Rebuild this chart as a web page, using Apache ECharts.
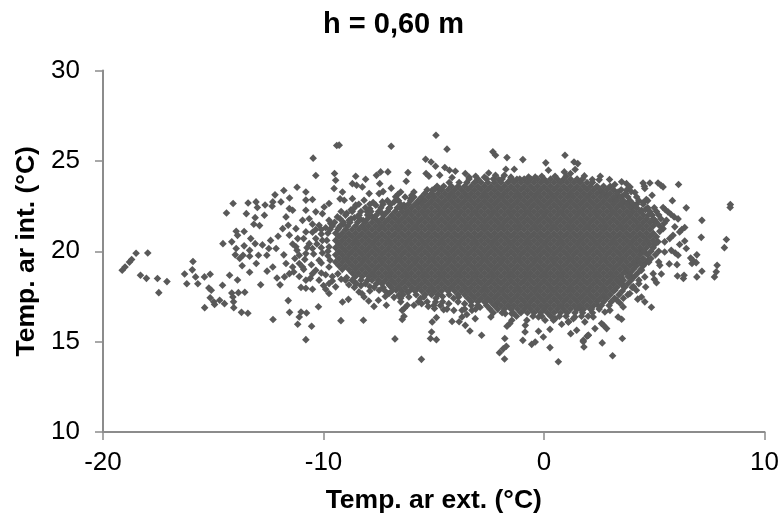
<!DOCTYPE html>
<html>
<head>
<meta charset="utf-8">
<title>h = 0,60 m</title>
<style>
  html, body { margin: 0; padding: 0; background: #fff; }
  #chart { width: 782px; height: 519px; }
</style>
<script src="https://cdn.jsdelivr.net/npm/echarts@6/dist/echarts.min.js"></script>
</head>
<body>
<div id="chart"></div>
<script>
// points that can be told apart in the picture, [ext, int]
var leftPoints = [
  [-19.13,18.95],[-19,19.13],[-18.8,19.4],[-18.7,19.54],[-18.5,19.89],[-17.97,19.9],[-18.3,18.67],[-18.03,18.5],[-17.53,18.49],[-17.1,18.32],[-17.47,17.71],
  [-15.92,19.43],[-15.95,18.97],[-16.3,18.74],[-15.8,18.58],[-15.4,18.58],[-15.14,18.73],[-16.2,18.2],[-15.7,18.2],[-15.39,16.88],[-15.2,17.97],[-15.09,17.84],[-15.14,17.43],[-14.98,17.2],[-14.94,17.05],[-14.71,17.29],[-14.49,17.1],[-14.58,18.12],[-14.26,18.67],[-13.9,18.41],[-14.16,17.69],[-14.11,17.47],[-13.86,17.71],[-13.57,17.73],[-14.08,17.2],[-14.07,16.88],[-13.72,16.62],[-13.43,16.57],
  [-14.4,22.12],[-14.1,22.64],[-14.56,20.42],[-14.16,20.52],[-13.96,21.11],[-13.6,21.09],[-13.9,20.88],[-13.5,22.08],[-13.42,22.67],[-13.06,22.73],[-13,22.42],[-12.65,22.56],[-13.1,21.86],[-12.68,21.99],[-13.16,21.49],[-12.9,21.42],[-12.3,22.73],[-12.2,23.12],[-11.8,23.36],[-11.2,23.54],[-11.54,22.95],[-11.93,22.73],[-12.33,22.49],
  [-13.3,20.7],[-13.6,20.3],[-13.1,20.42],[-13.35,20.05],[-12.77,20.35],[-13.96,20.15],[-14,19.8],[-13.8,19.6],[-13.69,19.2],[-13.35,19.72],[-13.65,19.78],[-12.95,19.78],[-13.05,19.32],[-13.35,18.84],[-12.56,18.9],[-12.85,18.15],[-12.4,20.6],[-12.06,20.83],[-12.48,20.15],[-12.57,19.78],[-12.15,20.15],[-11.8,19.8],[-12.3,19.13],
  [-11.6,17.27],[-11.54,16.62],[-12.29,16.22],[-10.23,16.93],[-11.02,16.64],[-10.77,16.58],[-11.1,16.36],[-11.17,15.96],[-10.54,15.85],[-10.8,15.11],[-11.97,18.14],[-12.11,18.52],[-11.02,18],[-10.8,17.95],
  [-10.47,25.15],[-10.35,24.19],[-9.4,25.85],[-9.5,24.3],[-9.45,23.93],[-9.52,23.47],[-10.8,23.28],[-10.8,22.83],[-10.5,22.86],[-11.55,22.36],[-11.4,22.27],[-11.7,21.9],[-11.6,21.44],[-11.85,21.25],[-11.55,20.89],[-11.25,21.25],[-10.8,21.07],[-11.17,20.7],[-9.75,22.64],[-9.97,22.45],[-10.8,22.27],[-10.35,22.18],[-10.05,22.08],[-10.65,21.8],[-10.95,21.71],[-9.75,21.71],[-10.2,21.44],[-9.67,21.53],[-9.37,21.9],
  [-11.7,19.32],[-11.4,19.13],[-11.55,18.76],[-11.77,18.58],[-11.1,19.32],[-10.8,19.87],[-11.1,19.78],[-10.5,20.15],[-10.05,20.6],[-10.65,20.42],[-9.75,20.24],[-10.2,19.5],[-9.75,19.13],[-10.35,18.95],[-10.5,18.76],[-10.2,18.4],[-9.75,18.21],[-9.45,18.03],[-9.75,17.66],[-10.95,19.13],[-10.8,18.4],[-11.1,18.6],[-9.9,17.9],[-10.5,17.9],[-11.25,20.25],[-11.4,20.4],[-10.05,19.9],[-10.35,20.7],[-9.7,19.5],[-9.9,18.7],
  [-9.8,21],[-10.1,20.95],[-10.5,21.05],[-10.9,20.7],[-9.85,20.6],[-10.3,20.4],[-10.75,20.2],[-11.2,20.05],[-9.8,20],[-10.1,20.2],[-10.45,19.85],[-10.85,19.55],[-11.3,19.6],[-9.8,19.75],[-10.1,19.35],[-10.55,19.25],[-10.9,19],[-11.35,18.85],[-10.1,18.8],[-10.6,18.5],[-9.6,18.6],[-9.35,18.75],[-9.2,18.45],[-9.6,18.35],[-8.95,18.55],[-10,18.1],[-10.35,21.2],[-9.9,21.3],[-10.5,21.5]
];

var upperPoints = [
  [-9.29,25.87],[-6.93,25.81],[-4.9,26.42],[-4.4,25.65],[-2.32,25.5],[-2.2,25.31],[-1.68,25.18],[-0.96,25.07],[-5.37,25.09],[-5.12,24.94],[-4.92,24.7],[-4.5,24.63],[-4.29,24.48],[-4.02,24.43],[-7.41,24.39],[-7.08,24.39],[-7.6,24.2],[-6.17,24.35],[-8.54,24.15],[-8.09,23.98],[-5.22,24.15],[-5.35,24.3],[-4.73,24.21],[-4.17,24.08],[-3.57,24.3],[-3.4,24.1],[-7.45,23.74],[-6.25,23.87],[-8.69,23.74],[-8.24,23.56],[-8.5,23.65],[-6.93,23.49],[-2.51,24.33],[-2.7,24.1],[-1.73,24.54],[-1.35,24.54],[-2.06,23.97],[-1.23,23.98],[-1.5,24.1],[-0.7,24.11],[-0.4,24.1],[-0.9,24],[0.2,24.48],
  [-9.14,23.28],[-7.93,23.19],[-7.48,23.19],[-7.3,23.3],[-6.73,23.01],[-6.5,23.28],[-6.62,23.15],[-5.9,23.28],[-6.05,22.91],[-6,23.1],[-5.52,22.82],[-5.7,22.7],[-5.07,23.38],[-4.77,23.47],[-4.95,23.45],[-8.16,22.82],[-8.69,22.91],[-9.06,22.82],[-9.25,22.9],[-7.33,22.73],[-6.8,22.73],[-6.95,22.6],[-8.54,22.55],[-7.63,22.55],[-7.75,22.7],[-6.35,22.55],[-6.5,22.4],[-8.01,22.18],[-7.33,22.08],[-7.03,22.36],[-8.84,21.71],[-8.39,21.99],[-8.75,22.3],[-8.95,22.1],[-8.6,21.85],[-9.1,21.5],[-9.3,21.3],[-7.8,21.9],[-8.2,21.7],[-7.9,22.35],
  [-3.4,24],[-3,24],[-2.6,24],[-2.3,24],[-1.9,24],[-1.5,24],[-1.1,24],[1.5,24],[1.75,24],[-3.5,23.8],[-3.85,23.8],[-4.3,23.8],[1.95,23.8],[2.2,23.8],[-4.55,23.6],[-4.85,23.6],[2.4,23.6],[2.7,23.6],[3,23.6],[-5,23.4],[-5.3,23.4],[2.85,23.4],[3.15,23.4],[3.5,23.4],[-3.1,24.15],[-0.1,24.15],[0.5,24.15],[1,24.15],[-2.2,24.2],[-1.8,24.2],
  [-5.9,23],[-6.3,23],[-6.05,22.8],[-6.6,22.8],[-7.1,22.8],[-6.5,22.6],[-7.3,22.6],[-7.9,22.6],[-8.4,22.6],[-6.65,22.4],[-7,22.4],[-7.4,22.4],[-8.1,22.4],[-8.6,22.4],[-7.1,22.2],[-7.5,22.2],[-7.85,22.2],[-8.3,22.2],[-8.7,22.2],[-9.2,22.2],[-7.25,22],[-7.6,22],[-8,22],[-8.4,22],[-9,22],[-8,21.8],[-8.35,21.8],[-8.75,21.8],[-9.25,21.8],[-8.45,21.6],[-8.8,21.6],[-9.1,21.6],[-9.5,21.6],[-8.9,21.4],[-9.25,21.4],[-9.6,21.4],[-9.35,21.2],[-9.7,21.2],[-10.1,21.2]
];

var lowerPoints = [
  [-9.21,16.16],[-8.19,16.18],[-6.76,15.15],[-5.56,14.02],[-6.43,16.22],[-6.35,16.4],[-5.07,16.09],[-4.88,16.33],[-4.17,16.12],[-5.1,15.53],[-5.15,15.17],[-4.88,15.11],[-3.36,15.59],[-2.83,15.35],[-1.78,15.17],[-1.71,14.74],[-1.85,14.6],[-2.02,14.39],[-1.79,14.04],[0.65,13.89],[0.27,14.67],[-0.96,15.07],[-0.56,14.85],[-0.4,14.98],[-0.03,15.26],[-0.86,15.53],[-0.25,15.57],[0.27,15.68],[0.8,15.96],[1.21,15.44],[1.48,15.63],[1.85,16.09],[1.78,15.07],[1.81,14.7],[1.95,15.3],[2.01,15.35],[-1.68,15.85],[-1.46,16.18],[-1.55,16],[-0.78,16.18],[-0.85,15.9],[-2.41,16.36],[-3.57,15.9],[-3.85,16.1],[-3.12,16.27],[-3.72,16.36],
  [-9.14,17.19],[-8.87,17.34],[-7.71,16.95],[-7.15,17.01],[-7.51,17.29],[-8.16,17.47],[-8.39,17.75],[-7.95,17.25],[-8.25,17.65],[-6.43,16.73],[-6.2,17.01],[-5.9,17.01],[-6.33,16.85],[-5.55,17.1],[-5.25,16.95],[-4.97,16.83],[-4.55,16.77],[-4.09,16.73],[-3.72,16.73],[-3.27,16.73],[-3.5,16.5],[-6.13,17.47],[-7.03,17.66],[-6.58,17.57],[-6.8,17.45],[-7.48,17.84],[-7.2,17.5],[-5.45,17.47],[-4.92,17.19],[-4.32,17.1],[-3.87,17.47],[-4.6,17.5],[-5.1,17.6],[-3.6,17.1],[-2.66,17.19],[-2.14,17.1],[-2.9,16.9],[-1.76,16.55],[-1.46,16.55],[-1.25,16.4],[-0.25,16.36],[0.05,16.18],[0.5,16.27],[1.1,16.09],[1.4,16.36],[-8.6,18.3],[-8.85,18.15],[-8.3,18.1],[-7.9,18.05],[-7,18.1],[-6.7,17.85],[-6.2,17.75],
  [-8,18.4],[-8.3,18.4],[-8.7,18.4],[-9,18.4],[-7.6,18.2],[-8.1,18.2],[-8.5,18.2],[-6.9,18],[-7.3,18],[-7.7,18],[-8.6,18],[-6.1,17.8],[-6.45,17.8],[-6.9,17.8],[-7.2,17.8],[-7.9,17.8],[-3.9,17.6],[-4.3,17.6],[-4.8,17.6],[-5.4,17.6],[-5.8,17.6],[-6.4,17.6],[-3.45,17.4],[-4.1,17.4],[-4.9,17.4],[-5.6,17.4],[-6.5,17.4],[-3,17.2],[-3.3,17.2],[-3.9,17.2],[-4.6,17.2],[-5.3,17.2],[-5.7,17.2],[-6.5,17.2],[-2.6,17],[-3,17],[-3.3,17],[-4.7,17],[-5,17],[-2.1,16.8],[-2.45,16.8],[-3.1,16.8],[-3.6,16.8],[-4.4,16.8],[-1.05,16.6],[-1.4,16.6],[-1.9,16.6],[-2.3,16.6]
];

var rightPoints = [
  [0.95,25.31],[0.08,24.89],[1.36,24.94],[1.53,24.85],[1.41,24.52],[1.2,24.3],[0.92,24.39],[1.83,24.17],[2.19,23.97],[2.55,24.15],[2.5,23.95],[2.97,23.97],[3.21,23.69],[3.52,23.84],[3.74,23.74],[3.9,23.55],[4.49,23.78],[4.55,23.6],[4.8,23.78],[5.17,23.78],[5.4,23.56],[5.3,23.65],[6.1,23.69],[4.57,23.47],[3.74,23.38],[4.12,23.25],[3.95,23.3],[4.9,23.1],[4.64,22.86],[4.5,22.7],[5.82,22.8],[3.36,23.28],[2.84,23.1],[3.14,22.82],[2.61,23.28],[3.55,23.05],[3.3,23],[6.45,22.4],[8.45,22.58],[8.44,22.42],[7.16,21.71],[7.13,20.77],[8.27,20.65],[8.18,20.2],
  [5.4,22.42],[5.5,22.3],[5.62,22.18],[5.75,22.05],[5.9,21.9],[6.08,21.79],[5.55,21.71],[5.45,21.55],[5.93,21.35],[6.38,21.31],[6.25,21.2],[6.15,21.07],[5.4,21.25],[5.25,21.1],[5.85,20.88],[5.7,20.7],[6.38,20.57],[6.15,20.37],[6.45,20.15],[5.17,20.52],[5.47,20.52],[5.47,19.96],[5.77,20.05],[5.95,19.9],[6.08,19.78],[6.65,19.63],[6.93,19.8],[6.9,19.37],[6.71,19.32],[6.75,19.5],[7.85,19.22],[7.81,18.86],[7.73,18.58],[7.16,18.89],[6.93,18.58],[6.35,18.67],[6.05,18.63],[6.32,18.49],[6.03,19.26],[5.68,19.3],[5.2,19.41],[5.25,19.22],[5.32,18.74],[4.95,18.76],[5.1,18.26],[5,18.45],[4.72,19.5],[4.6,19.35],[4.42,20.05],[4.6,19.9],[4.57,18.58],[4.61,18.02],[4.87,16.9],[4.57,17.2],[4.42,17.47],[4.25,17.35],[3.89,17.66],[4.19,17.84],[4.05,18.05],[3.59,16.92],[3.44,17.14],[3.3,17.3],[3.52,16.24],[3.36,16.36],[3.55,15.17],[3.11,14.22],[2.64,14.93],[2.01,15.35],[1.78,15],
  [2.84,15.72],[2.7,15.9],[2.61,16],[2.31,15.72],[2.23,16.36],[2.99,16.73],[2.76,16.64],[1.33,16.27],[1.11,16.09],[0.43,16.18],[1.71,16.73],[2.1,16.8],[2.45,17],[4.12,19.32],[4.42,18.95],[3.97,18.58],[3.7,18.85],[3.52,18.21],[3.21,17.84],[2.76,17.47],[3.5,18.55],[3.52,22.64],[3.97,22.45],[4.42,22.27],[4.72,21.99],[5.02,21.72],[3.85,22.75],[4.2,22.6],[4.6,22.3],
  [3,23.2],[3.3,23.2],[3.7,23.2],[3.45,23],[3.8,23],[4.2,23],[3.6,22.8],[3.9,22.8],[4.3,22.8],[4.7,22.8],[3.75,22.6],[4.05,22.6],[4.5,22.6],[3.9,22.4],[4.2,22.4],[4.7,22.4],[5,22.4],[4.05,22.2],[4.35,22.2],[4.8,22.2],[5.1,22.2],[4.5,22],[4.9,22],[5.2,22],[4.65,21.8],[4.95,21.8],[5.3,21.8],[4.8,21.6],[5.1,21.6],[4.95,21.4],[5.25,21.4],
  [3.9,19.2],[4.2,19.2],[4.5,19.2],[3.75,19],[4.05,19],[4.4,19],[3.6,18.8],[3.9,18.8],[4.25,18.8],[3.45,18.6],[3.8,18.6],[4.1,18.6],[3.3,18.4],[3.6,18.4],[3.95,18.4],[4.3,18.4],[3.15,18.2],[3.45,18.2],[3.8,18.2],[4.3,18.2],[3,18],[3.3,18],[3.65,18],[4,18],[2.85,17.8],[3.15,17.8],[3.55,17.8],[2.7,17.6],[3,17.6],[3.4,17.6],[3.8,17.6],[2.55,17.4],[2.85,17.4],[3.2,17.4],[3.6,17.4],[2.4,17.2],[2.7,17.2],[3.05,17.2],[1.95,17],[2.25,17],[2.6,17],[2.95,17],[1.5,16.8],[1.8,16.8],[2.15,16.8],[2.5,16.8],[0.75,16.6],[1.05,16.6],[1.4,16.6],[1.75,16.6],[2.2,16.6],[-0.5,16.4],[-0.1,16.4],[0.3,16.4],[0.7,16.4],[1,16.4],[1.7,16.4],[2,16.4],
  [5.1,20.8],[4.95,20.6],[4.8,20.4],[5.05,20.4],[4.65,20.2],[4.95,20.2],[4.5,20],[4.85,20],[5.2,20],[4.35,19.8],[4.7,19.8],[5.05,19.8],[4.2,19.6],[4.5,19.6],[4.85,19.6],[4.05,19.4],[4.35,19.4],[4.75,19.4]
];

// the middle of the cloud is solid, single points can't be read there.
// estimated rows that fill its outline: [int, ext, ext, ...]
var coreRows = [
  [24.0,-0.6,-0.3,0,0.3,0.6,0.9,1.2],
  [23.8,-3.15,-2.85,-2.55,-2.25,-1.95,-1.65,-1.35,-1.05,-0.75,-0.45,-0.15,0.15,0.45,0.75,1.05,1.35,1.65],
  [23.6,-4.2,-3.9,-3.6,-3.3,-3,-2.7,-2.4,-2.1,-1.8,-1.5,-1.2,-0.9,-0.6,-0.3,0,0.3,0.6,0.9,1.2,1.5,1.8,2.1],
  [23.4,-4.65,-4.35,-4.05,-3.75,-3.45,-3.15,-2.85,-2.55,-2.25,-1.95,-1.65,-1.35,-1.05,-0.75,-0.45,-0.15,0.15,0.45,0.75,1.05,1.35,1.65,1.95,2.25,2.55],
  [23.2,-5.4,-5.1,-4.8,-4.5,-4.2,-3.9,-3.6,-3.3,-3,-2.7,-2.4,-2.1,-1.8,-1.5,-1.2,-0.9,-0.6,-0.3,0,0.3,0.6,0.9,1.2,1.5,1.8,2.1,2.4,2.7],
  [23.0,-5.55,-5.25,-4.95,-4.65,-4.35,-4.05,-3.75,-3.45,-3.15,-2.85,-2.55,-2.25,-1.95,-1.65,-1.35,-1.05,-0.75,-0.45,-0.15,0.15,0.45,0.75,1.05,1.35,1.65,1.95,2.25,2.55,2.85,3.15],
  [22.8,-5.7,-5.4,-5.1,-4.8,-4.5,-4.2,-3.9,-3.6,-3.3,-3,-2.7,-2.4,-2.1,-1.8,-1.5,-1.2,-0.9,-0.6,-0.3,0,0.3,0.6,0.9,1.2,1.5,1.8,2.1,2.4,2.7,3,3.3],
  [22.6,-6.15,-5.85,-5.55,-5.25,-4.95,-4.65,-4.35,-4.05,-3.75,-3.45,-3.15,-2.85,-2.55,-2.25,-1.95,-1.65,-1.35,-1.05,-0.75,-0.45,-0.15,0.15,0.45,0.75,1.05,1.35,1.65,1.95,2.25,2.55,2.85,3.15,3.45],
  [22.4,-6.3,-6,-5.7,-5.4,-5.1,-4.8,-4.5,-4.2,-3.9,-3.6,-3.3,-3,-2.7,-2.4,-2.1,-1.8,-1.5,-1.2,-0.9,-0.6,-0.3,0,0.3,0.6,0.9,1.2,1.5,1.8,2.1,2.4,2.7,3,3.3,3.6],
  [22.2,-6.75,-6.45,-6.15,-5.85,-5.55,-5.25,-4.95,-4.65,-4.35,-4.05,-3.75,-3.45,-3.15,-2.85,-2.55,-2.25,-1.95,-1.65,-1.35,-1.05,-0.75,-0.45,-0.15,0.15,0.45,0.75,1.05,1.35,1.65,1.95,2.25,2.55,2.85,3.15,3.45,3.75],
  [22.0,-6.9,-6.6,-6.3,-6,-5.7,-5.4,-5.1,-4.8,-4.5,-4.2,-3.9,-3.6,-3.3,-3,-2.7,-2.4,-2.1,-1.8,-1.5,-1.2,-0.9,-0.6,-0.3,0,0.3,0.6,0.9,1.2,1.5,1.8,2.1,2.4,2.7,3,3.3,3.6,3.9,4.2],
  [21.8,-7.65,-7.35,-7.05,-6.75,-6.45,-6.15,-5.85,-5.55,-5.25,-4.95,-4.65,-4.35,-4.05,-3.75,-3.45,-3.15,-2.85,-2.55,-2.25,-1.95,-1.65,-1.35,-1.05,-0.75,-0.45,-0.15,0.15,0.45,0.75,1.05,1.35,1.65,1.95,2.25,2.55,2.85,3.15,3.45,3.75,4.05,4.35],
  [21.6,-8.1,-7.8,-7.5,-7.2,-6.9,-6.6,-6.3,-6,-5.7,-5.4,-5.1,-4.8,-4.5,-4.2,-3.9,-3.6,-3.3,-3,-2.7,-2.4,-2.1,-1.8,-1.5,-1.2,-0.9,-0.6,-0.3,0,0.3,0.6,0.9,1.2,1.5,1.8,2.1,2.4,2.7,3,3.3,3.6,3.9,4.2,4.5],
  [21.4,-8.55,-8.25,-7.95,-7.65,-7.35,-7.05,-6.75,-6.45,-6.15,-5.85,-5.55,-5.25,-4.95,-4.65,-4.35,-4.05,-3.75,-3.45,-3.15,-2.85,-2.55,-2.25,-1.95,-1.65,-1.35,-1.05,-0.75,-0.45,-0.15,0.15,0.45,0.75,1.05,1.35,1.65,1.95,2.25,2.55,2.85,3.15,3.45,3.75,4.05,4.35,4.65],
  [21.2,-9,-8.7,-8.4,-8.1,-7.8,-7.5,-7.2,-6.9,-6.6,-6.3,-6,-5.7,-5.4,-5.1,-4.8,-4.5,-4.2,-3.9,-3.6,-3.3,-3,-2.7,-2.4,-2.1,-1.8,-1.5,-1.2,-0.9,-0.6,-0.3,0,0.3,0.6,0.9,1.2,1.5,1.8,2.1,2.4,2.7,3,3.3,3.6,3.9,4.2,4.5,4.8],
  [21.0,-9.45,-9.15,-8.85,-8.55,-8.25,-7.95,-7.65,-7.35,-7.05,-6.75,-6.45,-6.15,-5.85,-5.55,-5.25,-4.95,-4.65,-4.35,-4.05,-3.75,-3.45,-3.15,-2.85,-2.55,-2.25,-1.95,-1.65,-1.35,-1.05,-0.75,-0.45,-0.15,0.15,0.45,0.75,1.05,1.35,1.65,1.95,2.25,2.55,2.85,3.15,3.45,3.75,4.05,4.35,4.65,4.95],
  [20.8,-9.3,-9,-8.7,-8.4,-8.1,-7.8,-7.5,-7.2,-6.9,-6.6,-6.3,-6,-5.7,-5.4,-5.1,-4.8,-4.5,-4.2,-3.9,-3.6,-3.3,-3,-2.7,-2.4,-2.1,-1.8,-1.5,-1.2,-0.9,-0.6,-0.3,0,0.3,0.6,0.9,1.2,1.5,1.8,2.1,2.4,2.7,3,3.3,3.6,3.9,4.2,4.5,4.8],
  [20.6,-9.45,-9.15,-8.85,-8.55,-8.25,-7.95,-7.65,-7.35,-7.05,-6.75,-6.45,-6.15,-5.85,-5.55,-5.25,-4.95,-4.65,-4.35,-4.05,-3.75,-3.45,-3.15,-2.85,-2.55,-2.25,-1.95,-1.65,-1.35,-1.05,-0.75,-0.45,-0.15,0.15,0.45,0.75,1.05,1.35,1.65,1.95,2.25,2.55,2.85,3.15,3.45,3.75,4.05,4.35,4.65],
  [20.4,-9.3,-9,-8.7,-8.4,-8.1,-7.8,-7.5,-7.2,-6.9,-6.6,-6.3,-6,-5.7,-5.4,-5.1,-4.8,-4.5,-4.2,-3.9,-3.6,-3.3,-3,-2.7,-2.4,-2.1,-1.8,-1.5,-1.2,-0.9,-0.6,-0.3,0,0.3,0.6,0.9,1.2,1.5,1.8,2.1,2.4,2.7,3,3.3,3.6,3.9,4.2,4.5],
  [20.2,-9.45,-9.15,-8.85,-8.55,-8.25,-7.95,-7.65,-7.35,-7.05,-6.75,-6.45,-6.15,-5.85,-5.55,-5.25,-4.95,-4.65,-4.35,-4.05,-3.75,-3.45,-3.15,-2.85,-2.55,-2.25,-1.95,-1.65,-1.35,-1.05,-0.75,-0.45,-0.15,0.15,0.45,0.75,1.05,1.35,1.65,1.95,2.25,2.55,2.85,3.15,3.45,3.75,4.05,4.35],
  [20.0,-9.3,-9,-8.7,-8.4,-8.1,-7.8,-7.5,-7.2,-6.9,-6.6,-6.3,-6,-5.7,-5.4,-5.1,-4.8,-4.5,-4.2,-3.9,-3.6,-3.3,-3,-2.7,-2.4,-2.1,-1.8,-1.5,-1.2,-0.9,-0.6,-0.3,0,0.3,0.6,0.9,1.2,1.5,1.8,2.1,2.4,2.7,3,3.3,3.6,3.9,4.2],
  [19.8,-9.45,-9.15,-8.85,-8.55,-8.25,-7.95,-7.65,-7.35,-7.05,-6.75,-6.45,-6.15,-5.85,-5.55,-5.25,-4.95,-4.65,-4.35,-4.05,-3.75,-3.45,-3.15,-2.85,-2.55,-2.25,-1.95,-1.65,-1.35,-1.05,-0.75,-0.45,-0.15,0.15,0.45,0.75,1.05,1.35,1.65,1.95,2.25,2.55,2.85,3.15,3.45,3.75,4.05],
  [19.6,-9.3,-9,-8.7,-8.4,-8.1,-7.8,-7.5,-7.2,-6.9,-6.6,-6.3,-6,-5.7,-5.4,-5.1,-4.8,-4.5,-4.2,-3.9,-3.6,-3.3,-3,-2.7,-2.4,-2.1,-1.8,-1.5,-1.2,-0.9,-0.6,-0.3,0,0.3,0.6,0.9,1.2,1.5,1.8,2.1,2.4,2.7,3,3.3,3.6,3.9],
  [19.4,-9.45,-9.15,-8.85,-8.55,-8.25,-7.95,-7.65,-7.35,-7.05,-6.75,-6.45,-6.15,-5.85,-5.55,-5.25,-4.95,-4.65,-4.35,-4.05,-3.75,-3.45,-3.15,-2.85,-2.55,-2.25,-1.95,-1.65,-1.35,-1.05,-0.75,-0.45,-0.15,0.15,0.45,0.75,1.05,1.35,1.65,1.95,2.25,2.55,2.85,3.15,3.45,3.75],
  [19.2,-9.3,-9,-8.7,-8.4,-8.1,-7.8,-7.5,-7.2,-6.9,-6.6,-6.3,-6,-5.7,-5.4,-5.1,-4.8,-4.5,-4.2,-3.9,-3.6,-3.3,-3,-2.7,-2.4,-2.1,-1.8,-1.5,-1.2,-0.9,-0.6,-0.3,0,0.3,0.6,0.9,1.2,1.5,1.8,2.1,2.4,2.7,3,3.3,3.6],
  [19.0,-9.15,-8.85,-8.55,-8.25,-7.95,-7.65,-7.35,-7.05,-6.75,-6.45,-6.15,-5.85,-5.55,-5.25,-4.95,-4.65,-4.35,-4.05,-3.75,-3.45,-3.15,-2.85,-2.55,-2.25,-1.95,-1.65,-1.35,-1.05,-0.75,-0.45,-0.15,0.15,0.45,0.75,1.05,1.35,1.65,1.95,2.25,2.55,2.85,3.15,3.45],
  [18.8,-8.7,-8.4,-8.1,-7.8,-7.5,-7.2,-6.9,-6.6,-6.3,-6,-5.7,-5.4,-5.1,-4.8,-4.5,-4.2,-3.9,-3.6,-3.3,-3,-2.7,-2.4,-2.1,-1.8,-1.5,-1.2,-0.9,-0.6,-0.3,0,0.3,0.6,0.9,1.2,1.5,1.8,2.1,2.4,2.7,3,3.3],
  [18.6,-8.55,-8.25,-7.95,-7.65,-7.35,-7.05,-6.75,-6.45,-6.15,-5.85,-5.55,-5.25,-4.95,-4.65,-4.35,-4.05,-3.75,-3.45,-3.15,-2.85,-2.55,-2.25,-1.95,-1.65,-1.35,-1.05,-0.75,-0.45,-0.15,0.15,0.45,0.75,1.05,1.35,1.65,1.95,2.25,2.55,2.85,3.15],
  [18.4,-7.8,-7.5,-7.2,-6.9,-6.6,-6.3,-6,-5.7,-5.4,-5.1,-4.8,-4.5,-4.2,-3.9,-3.6,-3.3,-3,-2.7,-2.4,-2.1,-1.8,-1.5,-1.2,-0.9,-0.6,-0.3,0,0.3,0.6,0.9,1.2,1.5,1.8,2.1,2.4,2.7,3],
  [18.2,-7.35,-7.05,-6.75,-6.45,-6.15,-5.85,-5.55,-5.25,-4.95,-4.65,-4.35,-4.05,-3.75,-3.45,-3.15,-2.85,-2.55,-2.25,-1.95,-1.65,-1.35,-1.05,-0.75,-0.45,-0.15,0.15,0.45,0.75,1.05,1.35,1.65,1.95,2.25,2.55,2.85],
  [18.0,-6.6,-6.3,-6,-5.7,-5.4,-5.1,-4.8,-4.5,-4.2,-3.9,-3.6,-3.3,-3,-2.7,-2.4,-2.1,-1.8,-1.5,-1.2,-0.9,-0.6,-0.3,0,0.3,0.6,0.9,1.2,1.5,1.8,2.1,2.4,2.7],
  [17.8,-5.85,-5.55,-5.25,-4.95,-4.65,-4.35,-4.05,-3.75,-3.45,-3.15,-2.85,-2.55,-2.25,-1.95,-1.65,-1.35,-1.05,-0.75,-0.45,-0.15,0.15,0.45,0.75,1.05,1.35,1.65,1.95,2.25,2.55],
  [17.6,-3.6,-3.3,-3,-2.7,-2.4,-2.1,-1.8,-1.5,-1.2,-0.9,-0.6,-0.3,0,0.3,0.6,0.9,1.2,1.5,1.8,2.1,2.4],
  [17.4,-3.15,-2.85,-2.55,-2.25,-1.95,-1.65,-1.35,-1.05,-0.75,-0.45,-0.15,0.15,0.45,0.75,1.05,1.35,1.65,1.95,2.25],
  [17.2,-2.7,-2.4,-2.1,-1.8,-1.5,-1.2,-0.9,-0.6,-0.3,0,0.3,0.6,0.9,1.2,1.5,1.8,2.1],
  [17.0,-2.25,-1.95,-1.65,-1.35,-1.05,-0.75,-0.45,-0.15,0.15,0.45,0.75,1.05,1.35,1.65],
  [16.8,-1.8,-1.5,-1.2,-0.9,-0.6,-0.3,0,0.3,0.6,0.9,1.2],
  [16.6,-0.75,-0.45,-0.15,0.15,0.45]
];

var xTicks = {min: -20, max: 10, interval: 10};
var yTicks = {min: 10, max: 30, interval: 5};

var corePoints = [];
coreRows.forEach(function (row) {
    for (var i = 1; i < row.length; i++) {
        corePoints.push([row[i], row[0]]);
    }
});
var points = leftPoints.concat(upperPoints, lowerPoints, rightPoints, corePoints);

var axisColor = '#8c8c8c';
var font = '"Liberation Sans", Arial, sans-serif';

var option = {
    backgroundColor: '#fff',
    animation: false,
    title: {
        text: 'h = 0,60 m',
        left: 318,
        top: 5,
        textStyle: {color: '#000', fontFamily: font, fontWeight: 'bold', fontSize: 29}
    },
    grid: {left: 103, right: 14, top: 70.5, bottom: 87},
    xAxis: {
        type: 'value',
        min: xTicks.min,
        max: xTicks.max,
        interval: xTicks.interval,
        name: 'Temp. ar ext. (°C)',
        nameLocation: 'middle',
        nameGap: 55,
        nameTextStyle: {color: '#000', fontFamily: font, fontWeight: 'bold', fontSize: 26.5},
        axisLine: {onZero: false, lineStyle: {color: axisColor, width: 2}},
        axisTick: {length: 8, lineStyle: {color: axisColor, width: 1.5}},
        axisLabel: {color: '#000', fontFamily: font, fontSize: 26, margin: 18},
        splitLine: {show: false}
    },
    yAxis: {
        type: 'value',
        min: yTicks.min,
        max: yTicks.max,
        interval: yTicks.interval,
        name: 'Temp. ar int. (°C)',
        nameLocation: 'middle',
        nameGap: 53,
        nameTextStyle: {color: '#000', fontFamily: font, fontWeight: 'bold', fontSize: 26.5},
        axisLine: {onZero: false, lineStyle: {color: axisColor, width: 2}},
        axisTick: {length: 8, lineStyle: {color: axisColor, width: 1.5}},
        axisLabel: {color: '#000', fontFamily: font, fontSize: 26, margin: 23},
        splitLine: {show: false}
    },
    series: [{
        type: 'scatter',
        symbol: 'diamond',
        symbolSize: 7.6,
        data: points,
        itemStyle: {color: '#595959', opacity: 1},
        emphasis: {disabled: true}
    }]
};

var chart = echarts.init(document.getElementById('chart'));
chart.setOption(option);
</script>
</body>
</html>
